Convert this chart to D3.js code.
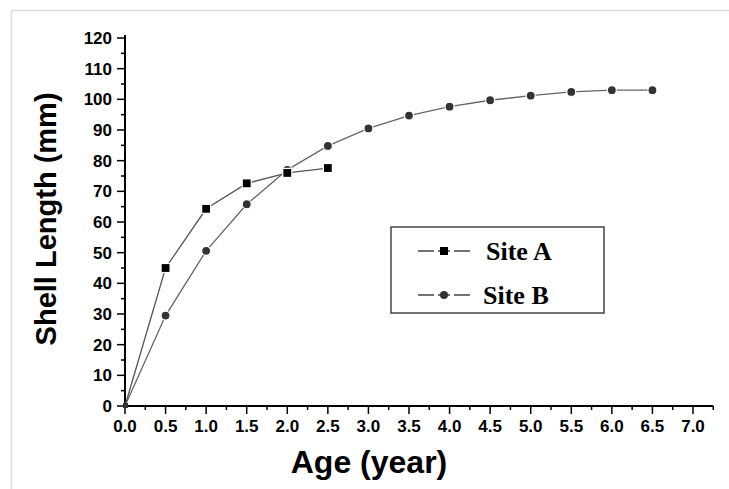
<!DOCTYPE html>
<html>
<head>
<meta charset="utf-8">
<script src="https://cdn.jsdelivr.net/npm/d3@7"></script>
<style>
  body { margin: 0; background: #fff; }
  svg { display: block; }
</style>
</head>
<body>
<svg id="chart" width="729" height="489"></svg>
<script>
// ages (year) and shell length (mm)
const agesA = [0, 0.5, 1.0, 1.5, 2.0, 2.5];
const lengthA = [0, 45, 64.3, 72.6, 76, 77.6];

const agesB = [0, 0.5, 1.0, 1.5, 2.0, 2.5, 3.0, 3.5, 4.0, 4.5, 5.0, 5.5, 6.0, 6.5];
const lengthB = [0, 29.5, 50.6, 65.8, 77, 84.8, 90.5, 94.7, 97.6, 99.7, 101.2, 102.4, 103, 103];

const xTicks = d3.range(0, 7.01, 0.5);
const yTicks = d3.range(0, 121, 10);
const seriesNames = ["Site A", "Site B"];

const svg = d3.select("#chart");

// faint frame around the figure
svg.append("path")
    .attr("d", "M11.5,489 V10.5 H729")
    .attr("fill", "none")
    .attr("stroke", "#ddd")
    .attr("stroke-width", 1.5);

let x = d3.scaleLinear().domain([0, 7]).range([125, 693]);
let y = d3.scaleLinear().domain([0, 120]).range([406, 38]);

const axisEndX = x(7.25);
const sans = "Liberation Sans, Arial, sans-serif";

// x axis
let gx = svg.append("g").attr("transform", `translate(0,${y(0)})`);
gx.append("line")
    .attr("x1", x(0) - 1).attr("x2", axisEndX)
    .attr("stroke", "#000").attr("stroke-width", 2);
gx.selectAll(".minor").data(d3.range(0.25, 7.3, 0.5)).join("line")
    .attr("x1", d => x(d)).attr("x2", d => x(d))
    .attr("y1", 0).attr("y2", 4)
    .attr("stroke", "#000").attr("stroke-width", 1.5);
gx.selectAll(".major").data(xTicks).join("line")
    .attr("x1", d => x(d)).attr("x2", d => x(d))
    .attr("y1", 0).attr("y2", 8)
    .attr("stroke", "#000").attr("stroke-width", 1.5);
gx.selectAll("text").data(xTicks).join("text")
    .attr("x", d => x(d)).attr("y", 26)
    .attr("text-anchor", "middle")
    .attr("font-family", sans)
    .attr("font-weight", "bold").attr("font-size", 17)
    .text(d => d3.format(".1f")(d));

// y axis
let gy = svg.append("g").attr("transform", `translate(${x(0)},0)`);
gy.append("line")
    .attr("y1", y(0) + 1).attr("y2", y(121))
    .attr("stroke", "#000").attr("stroke-width", 2);
gy.selectAll(".minor").data(d3.range(5, 120, 10)).join("line")
    .attr("y1", d => y(d)).attr("y2", d => y(d))
    .attr("x1", 0).attr("x2", -4)
    .attr("stroke", "#000").attr("stroke-width", 1.5);
gy.selectAll(".major").data(yTicks).join("line")
    .attr("y1", d => y(d)).attr("y2", d => y(d))
    .attr("x1", 0).attr("x2", -8)
    .attr("stroke", "#000").attr("stroke-width", 1.5);
gy.selectAll("text").data(yTicks).join("text")
    .attr("x", -13).attr("y", d => y(d) + 6)
    .attr("text-anchor", "end")
    .attr("font-family", sans)
    .attr("font-weight", "bold").attr("font-size", 17)
    .text(d => d);

// axis titles
svg.append("text")
    .attr("transform", `translate(56,${y(61)}) rotate(-90)`)
    .attr("text-anchor", "middle")
    .attr("font-family", sans)
    .attr("font-weight", "bold").attr("font-size", 29)
    .text("Shell Length (mm)");
svg.append("text")
    .attr("x", 369).attr("y", 473)
    .attr("text-anchor", "middle")
    .attr("font-family", sans)
    .attr("font-weight", "bold").attr("font-size", 32)
    .text("Age (year)");

// series
let line = d3.line().x(d => x(d[0])).y(d => y(d[1]));
const dataA = agesA.map((a, i) => [a, lengthA[i]]);
const dataB = agesB.map((a, i) => [a, lengthB[i]]);

svg.append("path").datum(dataA)
    .attr("d", line).attr("fill", "none")
    .attr("stroke", "#555").attr("stroke-width", 1.3);
svg.append("path").datum(dataB)
    .attr("d", line).attr("fill", "none")
    .attr("stroke", "#666").attr("stroke-width", 1.3);

// markers (skip the origin point, it sits on the axes)
svg.selectAll(".ptB").data(dataB.slice(1)).join("circle")
    .attr("cx", d => x(d[0])).attr("cy", d => y(d[1]))
    .attr("r", 4.5).attr("fill", "#333")
    .attr("stroke", "#fff").attr("stroke-width", 1.2);
svg.selectAll(".ptA").data(dataA.slice(1)).join("rect")
    .attr("x", d => x(d[0]) - 4.5).attr("y", d => y(d[1]) - 4.5)
    .attr("width", 9).attr("height", 9).attr("fill", "#000")
    .attr("stroke", "#fff").attr("stroke-width", 1.2);
svg.append("rect")
    .attr("x", x(0) - 2).attr("y", y(0) - 3)
    .attr("width", 5).attr("height", 5).attr("fill", "#333");

// legend
let legend = svg.append("g");
legend.append("rect")
    .attr("x", 391).attr("y", 227).attr("width", 213).attr("height", 86)
    .attr("fill", "#fff").attr("stroke", "#444").attr("stroke-width", 1.5);
seriesNames.forEach((name, i) => {
    let ly = 251 + i * 44;
    legend.append("line")
        .attr("x1", 418).attr("x2", 470).attr("y1", ly).attr("y2", ly)
        .attr("stroke", "#444").attr("stroke-width", 1.3)
        .attr("stroke-dasharray", "16,4,12,4,16");
    if (i === 0) {
        legend.append("rect")
            .attr("x", 440).attr("y", ly - 4).attr("width", 8).attr("height", 8)
            .attr("fill", "#000");
    } else {
        legend.append("circle")
            .attr("cx", 444).attr("cy", ly).attr("r", 4).attr("fill", "#333");
    }
    legend.append("text")
        .attr("x", i === 0 ? 486 : 483).attr("y", ly + 9)
        .attr("font-family", "Liberation Serif, Times New Roman, serif")
        .attr("font-weight", "bold").attr("font-size", 26)
        .text(name);
});
</script>
</body>
</html>
